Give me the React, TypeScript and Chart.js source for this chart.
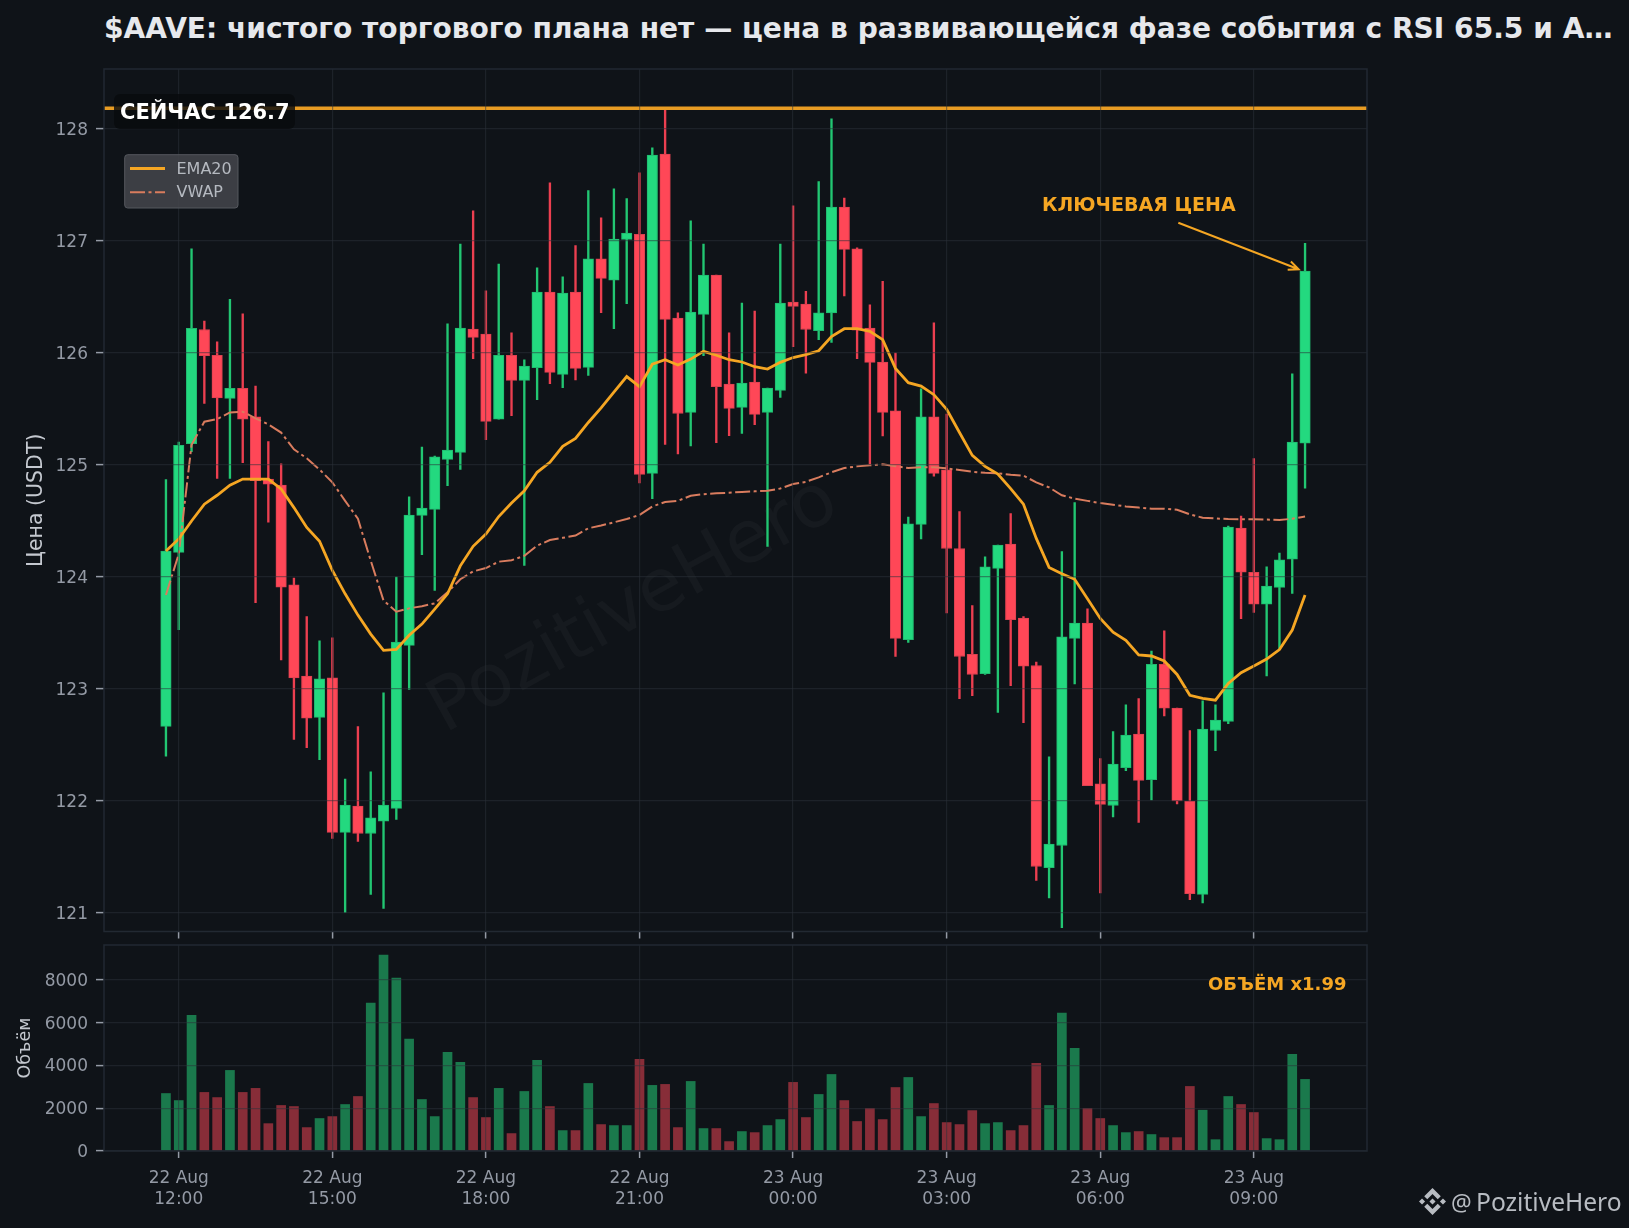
import React, { useEffect, useRef } from "react";
import { Chart, registerables } from "chart.js";

Chart.register(...registerables);

const TITLE = "$AAVE: чистого торгового плана нет — цена в развивающейся фазе события с RSI 65.5 и A…";
const FONT = '"DejaVu Sans", sans-serif';

const openPrices = [122.667,124.22,125.19,126.21,125.98,125.595,125.685,125.43,124.875,124.82,123.93,123.116,122.747,123.10,121.72,121.955,121.71,121.82,121.935,123.39,124.55,124.604,125.05,125.113,126.214,126.17,125.41,125.98,125.756,125.87,126.545,125.81,126.545,125.872,126.84,126.65,127.015,127.06,124.926,127.777,126.312,125.47,126.345,126.696,125.723,125.515,125.74,125.47,125.667,126.455,126.437,126.2,126.357,127.304,126.93,126.223,125.92,125.483,123.44,124.47,125.43,124.957,124.255,123.31,123.138,124.077,124.295,123.634,123.21,121.406,121.603,123.452,123.588,122.154,121.96,122.298,122.597,122.19,123.22,122.83,121.997,121.166,122.63,122.71,124.437,124.043,123.757,123.907,124.159,125.195];
const closePrices = [124.232,125.176,126.22,125.976,125.60,125.685,125.41,124.86,124.83,123.91,123.10,122.74,123.09,121.72,121.964,121.71,121.85,121.964,123.42,124.553,124.616,125.074,125.134,126.223,126.14,125.39,125.98,125.756,125.884,126.545,125.827,126.536,125.863,126.84,126.667,127.018,127.07,124.917,127.768,126.3,125.46,126.366,126.696,125.70,125.506,125.732,125.452,125.687,126.446,126.417,126.21,126.36,127.304,126.926,126.205,125.917,125.47,123.452,124.474,125.43,124.926,124.255,123.29,123.13,124.09,124.286,123.62,123.203,121.415,121.615,123.465,123.588,122.138,121.97,122.33,122.588,122.185,123.22,122.828,122.0,121.172,122.643,122.723,124.446,124.043,123.757,123.92,124.153,125.205,126.732];
const highPrices = [124.87,125.205,126.93,126.286,126.10,126.48,126.35,125.705,125.21,125.01,123.99,123.646,123.43,123.458,122.196,122.664,122.26,122.967,124.0,124.717,125.16,125.08,126.26,126.973,127.27,126.556,126.795,126.18,125.94,126.76,127.52,126.68,126.96,127.45,127.208,127.467,127.378,127.61,127.833,128.17,126.36,127.18,126.973,126.696,126.18,126.446,126.375,125.687,126.973,127.315,126.55,127.53,128.09,127.384,126.94,126.43,126.64,126.0,124.535,125.68,126.27,125.455,124.585,123.745,124.18,124.286,124.566,123.646,123.24,122.394,124.228,124.665,123.717,122.38,122.62,122.858,122.914,123.338,123.52,122.83,122.628,122.895,122.858,124.455,124.545,125.058,124.092,124.213,125.814,126.98];
const lowPrices = [122.40,123.53,125.12,125.55,124.88,124.88,125.02,123.77,124.49,123.26,122.55,122.476,122.37,121.667,121.006,121.64,121.167,121.04,121.836,122.997,124.2,123.88,124.815,124.96,125.95,125.226,125.41,125.44,124.104,125.583,125.726,125.69,125.76,125.8,126.36,126.217,126.44,124.84,124.7,125.185,125.1,125.17,125.976,125.2,125.262,125.283,125.36,124.274,125.604,126.057,125.82,126.12,126.095,126.51,125.95,125.01,125.26,123.29,123.415,124.34,124.9,123.68,122.914,122.94,123.13,122.79,123.03,122.70,121.29,121.135,120.87,123.046,122.138,121.18,121.858,122.27,121.81,122.01,122.76,121.975,121.12,121.09,122.45,122.69,123.628,123.683,123.117,123.355,123.853,124.793];
const ema20 = [124.232,124.34,124.50,124.65,124.73,124.82,124.875,124.875,124.875,124.786,124.62,124.443,124.32,124.06,123.85,123.66,123.49,123.345,123.354,123.48,123.58,123.714,123.85,124.10,124.274,124.384,124.54,124.66,124.77,124.935,125.024,125.167,125.238,125.38,125.51,125.65,125.79,125.70,125.90,125.94,125.893,125.946,126.015,125.98,125.94,125.92,125.878,125.857,125.917,125.96,125.985,126.02,126.146,126.217,126.217,126.194,126.12,125.863,125.735,125.705,125.628,125.497,125.29,125.086,124.988,124.92,124.79,124.65,124.345,124.086,124.03,123.98,123.806,123.63,123.508,123.434,123.305,123.295,123.25,123.13,122.944,122.917,122.9,123.05,123.145,123.206,123.268,123.352,123.527,123.84];
const vwap = [123.84,124.205,125.18,125.387,125.41,125.47,125.476,125.417,125.363,125.29,125.14,125.06,124.96,124.845,124.68,124.52,124.146,123.79,123.69,123.72,123.74,123.765,123.863,123.98,124.05,124.08,124.137,124.15,124.19,124.28,124.33,124.35,124.37,124.435,124.46,124.488,124.518,124.554,124.63,124.67,124.68,124.726,124.74,124.747,124.753,124.76,124.765,124.77,124.79,124.83,124.85,124.89,124.935,124.973,124.988,124.997,125.006,124.99,124.973,124.98,124.98,124.97,124.955,124.94,124.93,124.926,124.914,124.905,124.845,124.8,124.73,124.7,124.68,124.66,124.646,124.63,124.62,124.61,124.61,124.6,124.56,124.53,124.523,124.517,124.516,124.516,124.513,124.51,124.52,124.54];
const volumes = [2690,2360,6350,2740,2500,3770,2740,2930,1280,2130,2080,1095,1520,1610,2175,2550,6920,9170,8090,5230,2410,1610,4620,4150,2500,1565,2930,815,2785,4240,2080,955,955,3160,1236,1190,1190,4290,3070,3115,1095,3255,1050,1050,440,910,860,1190,1470,3210,1565,2645,3580,2360,1380,1990,1470,2970,3440,1610,2220,1330,1236,1890,1280,1330,955,1190,4100,2130,6450,4800,1990,1520,1190,860,910,770,625,625,3020,1910,530,2550,2175,1800,580,530,4520,3350];

const firstIndex = -1;
const timeTickPositions = [0, 12, 24, 36, 48, 60, 72, 84];
const timeTickLabels = [["22 Aug","12:00"],["22 Aug","15:00"],["22 Aug","18:00"],["22 Aug","21:00"],["23 Aug","00:00"],["23 Aug","03:00"],["23 Aug","06:00"],["23 Aug","09:00"]];
const priceTicks = [121,122,123,124,125,126,127,128];
const volumeTicks = [0,2000,4000,6000,8000];
const nowLevel = 128.186;
const nowLabel = "СЕЙЧАС 126.7";
const keyLabel = "КЛЮЧЕВАЯ ЦЕНА";
const volumeLabel = "ОБЪЁМ x1.99";
const watermark = "PozitiveHero";
const brandName = "PozitiveHero";
const arrowFrom = { x: 78.1, y: 127.163 };
const arrowTo = { x: 87.5, y: 126.748 };

const xMin = -5.84;
const xMax = 92.84;
const GREEN = "#23d97f";
const RED = "#ff4757";
const GREEN_EDGE = "#20b96f";
const RED_EDGE = "#dc4150";
const ORANGE = "#f5a623";
const BG = "#0f1318";
const GRID = "rgba(44,49,58,0.5)";
const TICK = "#949aa5";

const xOf = (i: number) => i + firstIndex;
const isUp = (i: number) => closePrices[i] >= openPrices[i];

const framePlugin = {
  id: "frame",
  afterDraw(chart: any) {
    const { ctx, chartArea: a } = chart;
    ctx.save();
    ctx.strokeStyle = "#222932";
    ctx.lineWidth = 1.5;
    ctx.strokeRect(a.left, a.top, a.right - a.left, a.bottom - a.top);
    ctx.restore();
  },
};

const watermarkPlugin = {
  id: "watermark",
  beforeDatasetsDraw(chart: any) {
    const { ctx } = chart;
    ctx.save();
    ctx.translate(634, 607);
    ctx.rotate((-29 * Math.PI) / 180);
    ctx.font = `73px ${FONT}`;
    ctx.fillStyle = "rgba(255,255,255,0.03)";
    ctx.textAlign = "center";
    ctx.textBaseline = "middle";
    ctx.fillText(watermark, 0, 0);
    ctx.restore();
  },
};

const pricePlugin = {
  id: "priceNotes",
  afterDraw(chart: any) {
    const { ctx, scales } = chart;
    ctx.save();
    // current price tag
    ctx.fillStyle = "rgba(9,11,14,0.82)";
    ctx.beginPath();
    ctx.roundRect(114, 94, 181, 35, 6);
    ctx.fill();
    ctx.font = `bold 21px ${FONT}`;
    ctx.fillStyle = "#ffffff";
    ctx.textAlign = "left";
    ctx.textBaseline = "middle";
    ctx.fillText(nowLabel, 120, 113.5);

    // legend
    ctx.beginPath();
    ctx.roundRect(124.7, 154.7, 113.3, 53.3, 3);
    ctx.fillStyle = "rgba(68,70,76,0.85)";
    ctx.fill();
    ctx.strokeStyle = "#55585e";
    ctx.lineWidth = 1;
    ctx.stroke();
    const rows = chart.data.datasets.filter((d: any) => d.showInLegend);
    rows.forEach((d: any, n: number) => {
      const y = 168.5 + n * 23.7;
      ctx.beginPath();
      ctx.setLineDash(d.borderDash || []);
      ctx.strokeStyle = d.borderColor;
      ctx.lineWidth = d.borderWidth;
      ctx.moveTo(130, y);
      ctx.lineTo(165, y);
      ctx.stroke();
      ctx.setLineDash([]);
      ctx.font = `16px ${FONT}`;
      ctx.fillStyle = "#b5b9c0";
      ctx.fillText(d.label, 176.5, y + 1);
    });

    // key price note
    ctx.font = `bold 19px ${FONT}`;
    ctx.fillStyle = ORANGE;
    ctx.fillText(keyLabel, 1042, 206);
    const x0 = scales.x.getPixelForValue(arrowFrom.x);
    const y0 = scales.y.getPixelForValue(arrowFrom.y);
    const x1 = scales.x.getPixelForValue(arrowTo.x);
    const y1 = scales.y.getPixelForValue(arrowTo.y);
    const ang = Math.atan2(y1 - y0, x1 - x0);
    ctx.strokeStyle = ORANGE;
    ctx.lineWidth = 2;
    ctx.beginPath();
    ctx.moveTo(x0, y0);
    ctx.lineTo(x1, y1);
    ctx.moveTo(x1 - 11 * Math.cos(ang - 0.42), y1 - 11 * Math.sin(ang - 0.42));
    ctx.lineTo(x1, y1);
    ctx.lineTo(x1 - 11 * Math.cos(ang + 0.42), y1 - 11 * Math.sin(ang + 0.42));
    ctx.stroke();
    ctx.restore();
  },
};

const volumePlugin = {
  id: "volumeNotes",
  afterDraw(chart: any) {
    const { ctx } = chart;
    ctx.save();
    ctx.font = `bold 18px ${FONT}`;
    ctx.fillStyle = ORANGE;
    ctx.textAlign = "right";
    ctx.textBaseline = "middle";
    ctx.fillText(volumeLabel, 1346.5, 985 - 940);
    ctx.restore();
  },
};

const xAxis = (labels: boolean, height: number) => ({
  type: "linear",
  offset: false,
  min: xMin,
  max: xMax,
  afterBuildTicks: (s: any) => {
    s.ticks = timeTickPositions.map((value) => ({ value }));
  },
  afterFit: (s: any) => {
    s.height = height;
    s.paddingLeft = 0;
    s.paddingRight = 0;
  },
  grid: { offset: false, color: GRID, lineWidth: 1.2, z: 1, tickColor: TICK, tickWidth: 1.5, tickLength: 7 },
  border: { display: false },
  ticks: {
    display: labels,
    autoSkip: false,
    maxRotation: 0,
    color: TICK,
    padding: 9.5,
    font: { family: FONT, size: 17, lineHeight: 1.26 },
    callback: (v: any) => timeTickLabels[timeTickPositions.indexOf(v)] ?? "",
  },
});

const yAxis = (min: number, max: number, ticks: number[], title: string, size: number, pad: number) => ({
  type: "linear",
  min,
  max,
  afterBuildTicks: (s: any) => {
    s.ticks = ticks.map((value) => ({ value }));
  },
  afterFit: (s: any) => {
    s.width = 104;
    s.paddingTop = 0;
    s.paddingBottom = 0;
  },
  grid: { color: GRID, lineWidth: 1.2, z: 1, tickColor: TICK, tickWidth: 1.5, tickLength: 8 },
  border: { display: false },
  title: { display: true, text: title, color: "#c4c8cf", font: { family: FONT, size }, padding: { top: pad, bottom: 0 } },
  ticks: {
    color: TICK,
    padding: 8,
    autoSkip: false,
    labelOffset: 1.5,
    font: { family: FONT, size: 17 },
    callback: (v: any) => String(v),
  },
});

export default function App() {
  const priceRef = useRef<HTMLCanvasElement>(null);
  const volumeRef = useRef<HTMLCanvasElement>(null);

  useEffect(() => {
    document.body.style.margin = "0";
    document.body.style.background = BG;
    const priceChart = new Chart(priceRef.current as any, {
      type: "bar",
      data: {
        datasets: [
          {
            label: "wick",
            order: 5,
            data: highPrices.map((h, i) => ({ x: xOf(i), y: [lowPrices[i], h] })),
            backgroundColor: highPrices.map((_, i) => (isUp(i) ? "#22c672" : "#ec3f50")),
            barThickness: 1.7,
            grouped: false,
          },
          {
            label: "body",
            order: 4,
            data: openPrices.map((o, i) => ({ x: xOf(i), y: [o, closePrices[i]] })),
            backgroundColor: openPrices.map((_, i) => (isUp(i) ? GREEN : RED)),
            borderColor: openPrices.map((_, i) => (isUp(i) ? GREEN_EDGE : RED_EDGE)),
            borderWidth: 1,
            borderSkipped: false,
            barThickness: 10.5,
            grouped: false,
          },
          {
            type: "line",
            label: "EMA20",
            showInLegend: true,
            order: 1,
            data: ema20.map((y, i) => ({ x: xOf(i), y })),
            borderColor: ORANGE,
            borderWidth: 2.8,
            pointRadius: 0,
            tension: 0,
          },
          {
            type: "line",
            label: "VWAP",
            showInLegend: true,
            order: 2,
            data: vwap.map((y, i) => ({ x: xOf(i), y })),
            borderColor: "#d97c5e",
            borderWidth: 2,
            borderDash: [15, 3.5, 3, 3.5],
            pointRadius: 0,
            tension: 0,
          },
          {
            type: "line",
            label: "now",
            order: 0,
            data: [
              { x: xMin, y: nowLevel },
              { x: xMax, y: nowLevel },
            ],
            borderColor: "#e89c23",
            borderWidth: 3.4,
            pointRadius: 0,
          },
        ] as any,
      },
      options: {
        responsive: false,
        devicePixelRatio: 1,
        animation: false,
        layout: { padding: { top: 69, right: 262, left: 0, bottom: 0 } },
        plugins: { legend: { display: false }, tooltip: { enabled: false }, title: { display: false } },
        scales: {
          x: xAxis(false, 13.5) as any,
          y: yAxis(120.835, 128.536, priceTicks, "Цена (USDT)", 20.5, 24) as any,
        },
      } as any,
      plugins: [watermarkPlugin, framePlugin, pricePlugin],
    });

    const volumeChart = new Chart(volumeRef.current as any, {
      type: "bar",
      data: {
        datasets: [
          {
            label: "Объём",
            data: volumes.map((y, i) => ({ x: xOf(i), y })),
            backgroundColor: volumes.map((_, i) => (isUp(i) ? "rgba(36,214,125,0.52)" : "rgba(255,71,87,0.5)")),
            barThickness: 9,
            grouped: false,
          },
        ] as any,
      },
      options: {
        responsive: false,
        devicePixelRatio: 1,
        animation: false,
        layout: { padding: { top: 5, right: 262, left: 0, bottom: 0 } },
        plugins: { legend: { display: false }, tooltip: { enabled: false }, title: { display: false } },
        scales: {
          x: xAxis(true, 77) as any,
          y: yAxis(0, 9637, volumeTicks, "Объём", 17.5, 15) as any,
        },
      } as any,
      plugins: [framePlugin, volumePlugin],
    });

    return () => {
      priceChart.destroy();
      volumeChart.destroy();
    };
  }, []);

  return (
    <div style={{ position: "relative", width: 1629, height: 1228, background: BG, overflow: "hidden" }}>
      <div
        style={{
          position: "absolute",
          left: 104,
          top: 13,
          fontFamily: FONT,
          fontWeight: 700,
          fontSize: 28.1,
          lineHeight: "32px",
          color: "#e6e8ec",
          whiteSpace: "nowrap",
        }}
      >
        {TITLE}
      </div>
      <canvas ref={priceRef} width={1629} height={945} style={{ position: "absolute", left: 0, top: 0 }} />
      <canvas ref={volumeRef} width={1629} height={288} style={{ position: "absolute", left: 0, top: 940 }} />
      <svg viewBox="0 0 32 32" width={27} height={27} style={{ position: "absolute", left: 1418.5, top: 1188 }}>
        <path
          fill="#b8bcc2"
          d="M9.8 13.4 16 7.2l6.2 6.2 3.6-3.6L16 0 6.2 9.8zM0 16l3.6-3.6L7.2 16l-3.6 3.6zM6.2 22.2 16 32l9.8-9.8-3.6-3.6-6.2 6.2-6.2-6.2zM24.8 16l3.6-3.6L32 16l-3.6 3.6zM16 12.4 19.6 16 16 19.6 12.4 16z"
        />
      </svg>
      <div
        style={{
          position: "absolute",
          left: 1451,
          top: 1186,
          fontFamily: '"Noto Sans", sans-serif',
          fontSize: 23,
          lineHeight: "32px",
          color: "#b8bcc2",
          whiteSpace: "nowrap",
        }}
      >
        @
      </div>
      <div
        style={{
          position: "absolute",
          left: 1476,
          top: 1186,
          fontFamily: '"Noto Sans", sans-serif',
          fontSize: 24.6,
          lineHeight: "32px",
          color: "#b8bcc2",
          whiteSpace: "nowrap",
        }}
      >
        {brandName}
      </div>
    </div>
  );
}
